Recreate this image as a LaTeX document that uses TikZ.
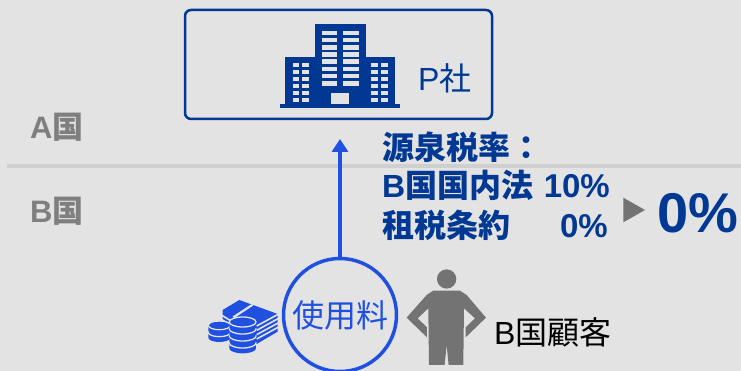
\documentclass[tikz,border=0pt]{standalone}
\usepackage{fontspec}
\setmainfont{Liberation Sans}
\newfontfamily\cjk{Noto Sans CJK JP}
\usetikzlibrary{arrows.meta, positioning, calc}
\definecolor{navycolor}{RGB}{0, 56, 147}
\definecolor{paycolor}{RGB}{32, 80, 224}
\definecolor{grayTcolor}{RGB}{127, 127, 127}
\definecolor{personcolor}{RGB}{115, 115, 115}
\definecolor{bgcolor}{RGB}{227, 227, 227}
\definecolor{linecolor}{RGB}{207, 207, 207}
\tikzset{
    countrylabel/.style={anchor=base west, inner sep=0pt, text=grayTcolor, font=\fontsize{31}{31}\selectfont\bfseries},
    ratelabel/.style={inner sep=0pt, text=navycolor, font=\fontsize{32}{32}\selectfont\bfseries},
    numlabel/.style={anchor=base east, inner sep=0pt, text=navycolor, font=\fontsize{33}{33}\selectfont\bfseries},
    darklabel/.style={anchor=base west, inner sep=0pt, font=\fontsize{32}{32}\selectfont}
}

\begin{document}
\begin{tikzpicture}[x=1pt,y=-1pt]
\useasboundingbox (0,0) rectangle (741,371);
\fill[bgcolor] (0,0) rectangle (741,371);

% Border
\coordinate (borderL) at (7,166);
\coordinate (borderR) at (741,166);
\draw[linecolor, line width=3.5pt] (borderL) -- (borderR);
\node[countrylabel] (labelA) at (30,138.5) {A{\cjk 国}};
\node[countrylabel] (labelB) at (30,222.5) {B{\cjk 国}};

% Company
\node[draw=navycolor, line width=2.5pt, rounded corners=6pt, minimum width=307pt, minimum height=109pt, inner sep=0pt] (pbox) at (338.5,64.5) {};
\node[anchor=base west, inner sep=0pt, text=navycolor, font=\fontsize{32}{32}\selectfont] (plabel) at (418,91) {P{\cjk 社}};
\fill[navycolor] (280,104) rectangle (400,108);
\fill[navycolor] (285.3,57.3) rectangle (395.3,104);
\fill[navycolor] (314.7,24) rectangle (365.7,60);
\foreach \i in {0,...,7} {
    \pgfmathsetmacro{\yy}{30.7+7.2*\i}
    \fill[bgcolor] (321.7,\yy) rectangle +(15.6,4.5);
    \fill[bgcolor] (343,\yy) rectangle +(15.7,4.5);
}
\foreach \i in {0,...,5} {
    \pgfmathsetmacro{\yy}{63+7.1*\i}
    \fill[bgcolor] (292.7,\yy) rectangle +(6.6,4);
    \fill[bgcolor] (301.7,\yy) rectangle +(7,4);
    \fill[bgcolor] (371.3,\yy) rectangle +(6.7,4);
    \fill[bgcolor] (381,\yy) rectangle +(7,4);
}
\fill[bgcolor] (331.3,92.7) rectangle (349.3,104);

% Royalty
\node[circle, draw=paycolor, line width=3.5pt, minimum size=113pt, inner sep=0pt, text=paycolor, font=\fontsize{32}{32}\selectfont\cjk] (fee) at (340,315) {使用料};
\coordinate (feetip) at (340,139);
\draw[paycolor, line width=4.5pt, -{Triangle[width=16pt,length=13pt]}] (fee) -- (feetip);

% Rates
\node[ratelabel, anchor=base west] (ratehead) at (382,159.5) {\cjk 源泉税率：};
\node[ratelabel, anchor=base west] (domlaw) at (382,198) {B{\cjk 国国内法}};
\node[numlabel] (domrate) at (610,198) {10\%};
\node[ratelabel, anchor=base west] (treaty) at (382,237.5) {\cjk 租税条約};
\node[numlabel] (treatyrate) at (608,237.5) {0\%};
\fill[personcolor] (623.3,197.7) -- (645,210) -- (623.3,222.3) -- cycle;
\node[anchor=base west, inner sep=0pt, text=navycolor, font=\fontsize{56}{56}\selectfont\bfseries] (result) at (657,233) {0\%};

% Customer
\begin{scope}[shift={(190,250)}, scale=0.3333]
\fill[personcolor] (770,87) circle (29);
\fill[personcolor] (730,122) -- (810,122) -- (830,135) -- (888,203) -- (827,262) -- (827,232) -- (855,205) -- (822,175) -- (820,345) -- (776,345) -- (770,285) -- (764,345) -- (717,345) -- (715,175) -- (683,205) -- (711,232) -- (711,262) -- (650,203) -- (710,135) -- cycle;
\end{scope}
\node[darklabel] (customer) at (494,344) {B{\cjk 国顧客}};

% Money
\begin{scope}[shift={(200,290)}, scale=0.3333]
\fill[paycolor] (68,60) -- (118,30) -- (233,72) -- (233,125) -- (170,162) -- (68,100) -- cycle;
\draw[bgcolor, line width=2.2pt] (100,82) -- (158,44);
\foreach \i in {0,...,3} {
    \draw[bgcolor, line width=1.6pt] (170,{108+13*\i}) -- (236,{72+13*\i});
}
\foreach \i in {1,2} {
    \draw[bgcolor, line width=1.6pt] (64,{62+13*\i}) -- (110,{90+13*\i});
}
% left coins
\foreach \i in {1,0} {
    \pgfmathsetmacro{\yy}{122+21*\i}
    \fill[paycolor] (25,\yy) arc (180:0:33 and 13) -- ++(0,-16) arc (0:-180:33 and 13) -- cycle;
    \draw[bgcolor, line width=1.3pt] (58,{\yy-16}) ellipse (33 and 13);
}
\fill[paycolor] (58,106) ellipse (29 and 10);
% front coins
\foreach \i in {3,2,1,0} {
    \pgfmathsetmacro{\yy}{112+21*\i}
    \fill[paycolor] (88,\yy) arc (180:0:40 and 15) -- ++(0,-16) arc (0:-180:40 and 15) -- cycle;
    \draw[bgcolor, line width=1.3pt] (128,{\yy-16}) ellipse (40 and 15);
}
\fill[paycolor] (128,96) ellipse (36 and 11);
\end{scope}
\end{tikzpicture}
\end{document}
